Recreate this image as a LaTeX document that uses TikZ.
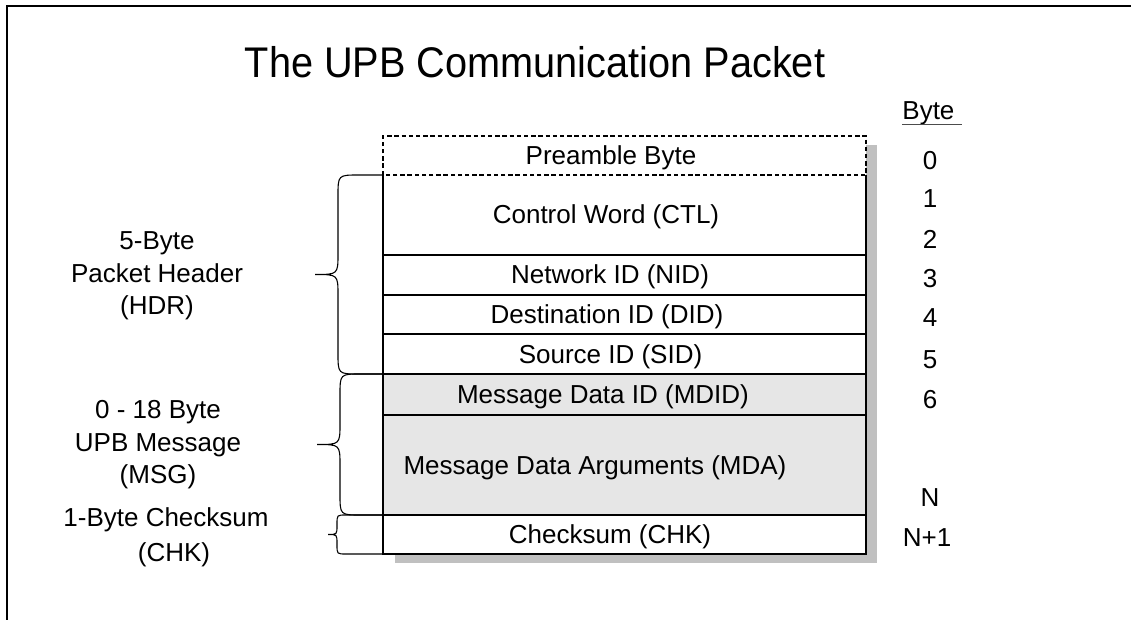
\documentclass[tikz,border=0pt]{standalone}
\usepackage{fontspec}
\setmainfont{Liberation Sans}
\newcommand{\bodyfont}{\fontsize{13}{16.25}\selectfont}
% curly brace: x, top, bottom, arm, tip, corner
\newcommand{\packbrace}[6]{%
	\draw[brace line] (#1,#2) -- ({#1-#4+#6},#2)
		.. controls ({#1-#4},#2) .. ({#1-#4},{#2+#6})
		-- ({#1-#4},{(#2+#3)/2-#6})
		.. controls ({#1-#4},{(#2+#3)/2}) .. ({#1-#4-#5},{(#2+#3)/2})
		.. controls ({#1-#4},{(#2+#3)/2}) .. ({#1-#4},{(#2+#3)/2+#6})
		-- ({#1-#4},{#3-#6})
		.. controls ({#1-#4},#3) .. ({#1-#4+#6},#3) -- (#1,#3);}

\begin{document}
\begin{tikzpicture}[x=0.5pt,y=-0.5pt,
		field/.style={line width=0.9pt},
		brace line/.style={line width=0.55pt},
		fieldtext/.style={anchor=base,inner sep=0pt,font=\bodyfont},
		bytenum/.style={inner sep=0pt,font=\bodyfont},
		sidelabel/.style={align=center,inner sep=0pt,font=\bodyfont}]
	\definecolor{shadowgray}{HTML}{C0C0C0}
	\definecolor{msggray}{HTML}{E6E6E6}
	\useasboundingbox (0,0) rectangle (1140,620);
	
	% frame
	\draw[line width=1pt] (6.5,620) -- (6.5,6) -- (1131,6);
	
	% title
	\node[inner sep=0pt,font=\fontsize{19.85}{24}\selectfont] (title) at (535,62) {\scalebox{1}[1.08]{The UPB Communication Packet}};
	
	% packet
	\fill[shadowgray] (395,145) rectangle (877,563);
	\fill[white] (383,136) rectangle (866,374);
	\fill[msggray] (383,374) rectangle (866,515);
	\fill[white] (383,515) rectangle (866,554);
	\draw[line width=0.6pt,dash pattern=on 2.2pt off 1.4pt] (383,175) -- (383,136) -- (866,136) -- (866,175) -- cycle;
	\draw[field] (383,175) -- (383,554) -- (866,554) -- (866,175);
	\draw[field] (383,255) -- (866,255);
	\draw[field] (383,295) -- (866,295);
	\draw[field] (383,334) -- (866,334);
	\draw[field] (383,374) -- (866,374);
	\draw[field] (383,415) -- (866,415);
	\draw[field] (383,515) -- (866,515);
	
	\node[fieldtext] (pre) at (611,164.5) {Preamble Byte};
	\node[fieldtext] (ctl) at (606,224) {Control Word (CTL)};
	\node[fieldtext] (nid) at (610,284) {Network ID (NID)};
	\node[fieldtext] (did) at (607,323.5) {Destination ID (DID)};
	\node[fieldtext] (sid) at (610.5,363) {Source ID (SID)};
	\node[fieldtext] (mdid) at (603,403.5) {Message Data ID (MDID)};
	\node[fieldtext] (mda) at (595,474) {Message Data Arguments (MDA)};
	\node[fieldtext] (chk) at (610,543) {Checksum (CHK)};
	
	% braces
	\packbrace{383}{175}{374}{45}{23}{21}
	\packbrace{383}{374}{515}{43}{23}{21}
	\packbrace{383}{515}{554}{46}{9}{9}
	
	% labels
	\node[sidelabel] (hdr) at (157,276) {5-Byte\\Packet Header\\(HDR)};
	\node[sidelabel] (msg) at (158,445) {0 - 18 Byte\\UPB Message\\(MSG)};
	\node[sidelabel,font=\fontsize{13}{17.5}\selectfont] (chklabel) at (166,537) {1-Byte Checksum\\\hspace*{8pt}(CHK)};
	
	% byte numbers
	\node[fieldtext,anchor=base west] (byte) at (902,120) {Byte\hspace*{3.6pt}};
	\draw[line width=0.6pt,black!70] ([yshift=-2.2pt]byte.base west) -- ([yshift=-2.2pt]byte.base east);
	\node[bytenum] (b0) at (930,160.7) {0};
	\node[bytenum] (b1) at (930,199) {1};
	\node[bytenum] (b2) at (930,239) {2};
	\node[bytenum] (b3) at (930,279) {3};
	\node[bytenum] (b4) at (930,318) {4};
	\node[bytenum] (b5) at (930,360) {5};
	\node[bytenum] (b6) at (930,400) {6};
	\node[bytenum] (bn) at (930,498) {N};
	\node[bytenum] (bn1) at (927,538) {N+1};
\end{tikzpicture}
\end{document}
